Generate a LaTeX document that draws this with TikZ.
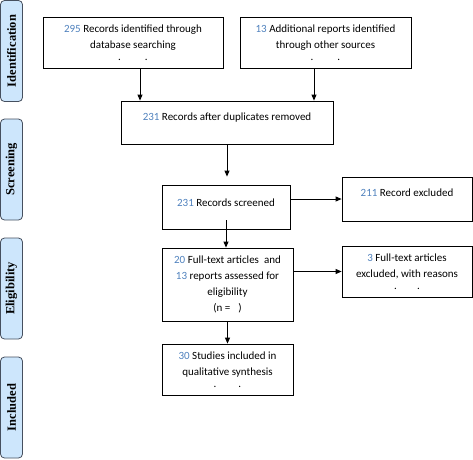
\documentclass[tikz,border=0pt]{standalone}
\usepackage{fontspec}
\setmainfont{Carlito}
\newfontfamily\lblfont{Liberation Serif}
\usetikzlibrary{arrows.meta}
\definecolor{numblue}{RGB}{79,129,189}
\definecolor{lblfill}{RGB}{205,230,252}
\definecolor{lbldraw}{RGB}{70,80,95}
\newcommand{\nb}[1]{\textcolor{numblue}{#1}}
\begin{document}
\begin{tikzpicture}[x=1pt,y=-1pt,
  box/.style={draw=black,line width=0.8pt,inner sep=0pt,align=center,font=\fontsize{11}{16}\selectfont},
  phase/.style={draw=lbldraw,fill=lblfill,line width=0.8pt,rounded corners=4pt,rotate=90,inner sep=0pt,
    font=\lblfont\bfseries\fontsize{12.5}{14}\selectfont},
  arr/.style={-{Triangle[length=6pt,width=5pt]},line width=0.9pt}]
\useasboundingbox (0,0) rectangle (473,459);
% phase labels
\node[phase,minimum width=101pt,minimum height=22pt] (ph1) at (11.5,51) {Identification};
\node[phase,minimum width=101pt,minimum height=22pt] (ph2) at (11.5,169.5) {Screening};
\node[phase,minimum width=101pt,minimum height=22pt] (ph3) at (11.5,288.5) {Eligibility};
\node[phase,minimum width=101pt,minimum height=22pt] (ph4) at (11.5,407.5) {Included};
% boxes
\node[box,minimum width=180pt,minimum height=51pt] (b1) at (133,42.5)
  {\nb{295} Records identified through\\database searching\\[-4pt].\hspace{24pt}.};
\node[box,minimum width=171pt,minimum height=51pt] (b2) at (325.5,42.5)
  {\nb{13} Additional reports identified\\through other sources\\[-4pt].\hspace{24pt}.};
\node[box,minimum width=212pt,minimum height=43pt] (b3) at (227,122.5)
  {\nb{231} Records after duplicates removed\\[-4pt]\mbox{}};
\node[box,minimum width=128pt,minimum height=44pt] (b4) at (226,207)
  {\nb{231} Records screened\\[-8pt]\mbox{}};
\node[box,minimum width=130pt,minimum height=44pt] (b5) at (407,199)
  {\nb{211} Record excluded\\[-4pt]\mbox{}};
\node[box,minimum width=131pt,minimum height=73pt] (b6) at (227.5,284.5)
  {\nb{20} Full-text articles~ and\\\nb{13} reports assessed for\\eligibility\\(n =\hspace{8pt})};
\node[box,minimum width=130pt,minimum height=51pt] (b7) at (407,271.5)
  {\nb{3} Full-text articles\\excluded, with reasons\\[-4pt].\hspace{20pt}.};
\node[box,minimum width=131pt,minimum height=51pt] (b8) at (227.5,369.5)
  {\nb{30} Studies included in\\qualitative synthesis\\[-4pt].\hspace{22pt}.};
% arrows
\draw[arr] ([xshift=7pt]b1.south) -- ([xshift=7pt]b1.south |- b3.north);
\draw[arr] ([xshift=-11.5pt]b2.south) -- ([xshift=-11.5pt]b2.south |- b3.north);
\draw[arr,shorten >=8pt] (b3.south) -- (b3.south |- b4.north);
\draw[arr] ([yshift=9pt]b4.south) -- (b4.south |- b6.north);
\draw[arr] (b6.south) -- (b6.south |- b8.north);
\draw[arr] (b4.east |- b5.west) -- (b5.west);
\draw[arr] (b6.east |- b7.west) -- (b7.west);
\end{tikzpicture}
\end{document}
